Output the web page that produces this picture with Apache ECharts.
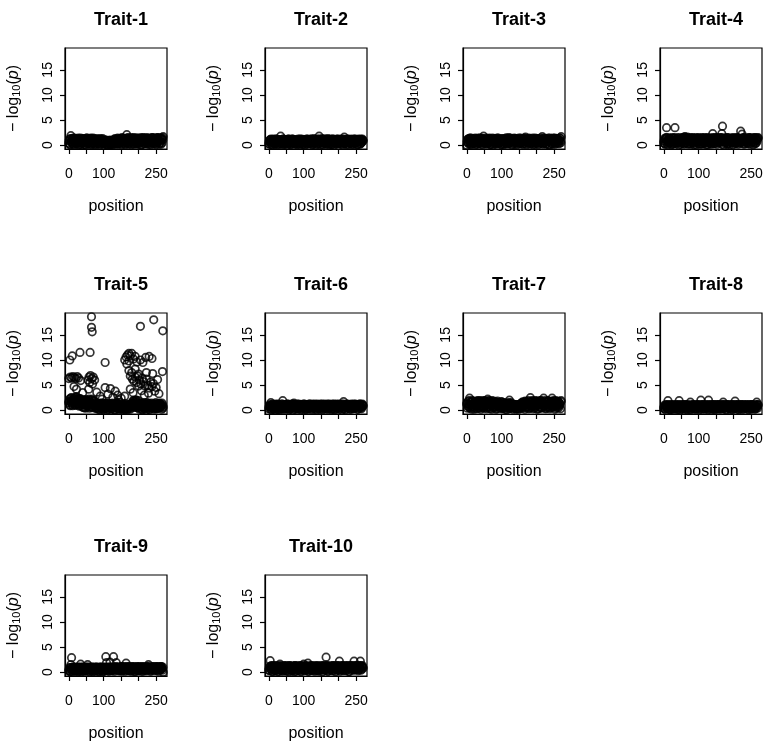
<!DOCTYPE html>
<html><head><meta charset="utf-8">
<script src="https://cdn.jsdelivr.net/npm/echarts@6/dist/echarts.min.js"></script>
<style>html,body{margin:0;padding:0;background:#fff}#c{width:768px;height:743px}</style>
</head><body><div id="c"></div>
<script>
const traitNames = ["Trait-1","Trait-2","Trait-3","Trait-4","Trait-5","Trait-6","Trait-7","Trait-8","Trait-9","Trait-10"];
const xTicks = [0,50,100,150,200,250];
const xTickLabels = [0,100,250];
const yTicks = [0,5,10,15];
// even positions
const positions = [
0,2,4,6,8,10,12,14,16,18,20,22,24,26,28,30,32,34,36,38,
40,42,44,46,48,50,52,54,56,58,60,62,64,66,68,70,72,74,76,78,
80,82,84,86,88,90,92,94,96,98,100,102,104,106,108,110,112,114,116,118,
120,122,124,126,128,130,132,134,136,138,140,142,144,146,148,150,152,154,156,158,
160,162,164,166,168,170,172,174,176,178,180,182,184,186,188,190,192,194,196,198,
200,202,204,206,208,210,212,214,216,218,220,222,224,226,228,230,232,234,236,238,
240,242,244,246,248,250,252,254,256,258,260,262,264,266,268,270];
// odd positions
const positionsB = [
1,3,5,7,9,11,13,15,17,19,21,23,25,27,29,31,33,35,37,39,
41,43,45,47,49,51,53,55,57,59,61,63,65,67,69,71,73,75,77,79,
81,83,85,87,89,91,93,95,97,99,101,103,105,107,109,111,113,115,117,119,
121,123,125,127,129,131,133,135,137,139,141,143,145,147,149,151,153,155,157,159,
161,163,165,167,169,171,173,175,177,179,181,183,185,187,189,191,193,195,197,199,
201,203,205,207,209,211,213,215,217,219,221,223,225,227,229,231,233,235,237,239,
241,243,245,247,249,251,253,255,257,259,261,263,265,267,269];

const trait1 = [
0.4,1.2,0.1,1.9,0.7,1.3,0.2,0.9,1.4,0.5,1.1,0.3,1.3,0.8,0.0,1.2,0.6,1.4,0.2,1.0,
0.5,1.3,0.9,0.1,1.2,0.7,1.4,0.3,1.1,0.6,1.3,0.2,0.8,1.2,0.4,1.4,0.9,0.1,1.1,0.6,
1.2,0.3,1.0,0.7,1.3,0.2,0.9,1.2,0.5,1.0,0.3,0.9,0.6,1.0,0.1,0.8,0.4,0.9,0.2,1.0,
0.6,0.3,0.9,0.1,1.0,0.5,1.3,0.7,1.2,0.2,1.4,0.6,1.1,0.3,1.3,0.8,1.5,0.4,1.2,0.7,
1.3,0.1,1.0,2.1,0.6,1.4,0.3,1.2,0.8,1.5,0.5,1.1,1.4,0.2,1.3,0.7,1.0,0.4,1.4,0.9,
0.2,1.3,0.6,1.5,0.1,1.1,0.8,1.4,0.3,1.2,0.7,1.5,0.4,1.0,1.3,0.2,1.4,0.9,0.5,1.2,
1.5,0.3,1.1,0.8,1.4,0.1,1.3,0.6,1.5,0.9,0.4,1.4,0.2,1.2,1.5,1.7];
const trait1b = [
0.9,0.2,1.3,0.6,1.0,0.4,1.4,0.1,0.8,1.2,0.5,1.0,0.3,1.4,0.7,0.1,1.1,0.9,0.4,1.3,
0.6,0.2,1.2,0.8,0.0,1.4,0.5,1.0,0.3,1.2,0.7,1.4,0.1,0.9,1.2,0.4,0.8,1.3,0.2,1.0,
0.6,1.2,0.3,0.9,0.0,1.1,0.7,0.4,1.3,0.2,0.8,0.5,1.0,0.2,0.7,0.0,0.9,0.4,0.6,0.1,
0.9,0.3,0.7,1.0,0.2,1.1,0.6,0.3,1.0,0.8,0.2,1.3,0.5,1.0,0.8,0.1,1.2,0.6,1.4,0.3,
0.9,1.3,0.4,0.7,1.5,0.2,1.0,0.6,1.3,0.1,1.2,0.8,0.3,1.5,0.6,1.0,0.2,1.4,0.7,1.1,
0.4,0.9,1.3,0.0,1.2,0.5,1.5,0.8,0.3,1.1,1.3,0.6,0.2,1.4,0.9,0.5,1.2,0.1,1.0,1.5,
0.6,1.3,0.3,0.9,1.2,0.4,1.5,0.7,1.0,0.2,1.3,0.8,1.4,0.5,1.1];
const trait2 = [
0.3,1.0,0.6,1.2,0.1,0.8,1.1,0.4,0.9,0.2,1.2,0.5,0.8,0.1,1.0,0.6,1.1,1.8,0.3,0.9,
0.7,1.2,0.2,1.0,0.5,1.1,0.3,0.8,1.2,0.4,1.0,0.1,0.9,0.6,1.2,0.3,1.0,0.7,0.2,1.1,
0.5,0.9,1.2,0.2,0.8,1.0,0.4,1.2,0.6,0.1,1.1,0.4,0.9,0.7,1.2,0.2,1.0,0.5,1.1,0.3,
0.8,1.2,0.1,1.0,0.6,1.3,0.4,0.9,1.1,0.2,1.2,0.7,1.8,0.3,1.0,0.6,1.3,0.1,0.9,1.1,
0.4,1.2,0.8,0.2,1.1,0.6,1.0,0.3,1.2,0.7,0.1,0.9,1.2,0.5,1.0,0.3,1.1,0.8,0.2,1.2,
0.6,1.0,0.4,1.1,0.2,0.9,1.2,0.5,1.6,0.3,1.0,0.7,1.2,0.1,0.9,0.5,1.1,0.3,1.2,0.8,
0.2,1.0,0.6,1.2,0.4,1.1,0.9,0.1,1.2,0.7,1.0,0.3,1.1,0.6,1.2,0.9];
const trait2b = [
0.8,0.2,1.1,0.5,0.9,0.0,1.2,0.6,0.3,1.0,0.4,1.2,0.7,0.2,0.9,1.1,0.3,0.6,1.0,0.1,
1.2,0.5,0.8,0.3,1.1,0.6,0.0,0.9,1.2,0.4,0.7,1.0,0.2,1.2,0.5,0.8,1.1,0.3,0.9,0.6,
0.1,1.0,0.7,0.4,1.2,0.2,0.9,0.6,1.1,0.3,0.8,0.0,1.1,0.5,0.9,1.2,0.3,0.7,1.0,0.4,
1.2,0.6,0.2,0.9,1.1,0.4,0.8,0.0,1.0,0.7,0.3,1.2,0.5,0.9,0.1,1.1,0.6,1.0,0.4,1.2,
0.7,0.2,1.0,0.5,1.3,0.8,0.1,0.9,0.6,1.1,0.3,1.2,0.7,0.0,1.0,0.5,0.9,1.2,0.4,0.8,
1.1,0.3,0.7,1.2,0.5,0.0,1.0,0.8,0.3,1.1,0.6,0.9,0.2,1.2,0.7,1.0,0.4,0.8,1.1,0.1,
0.9,0.5,1.2,0.3,1.0,0.7,0.1,1.1,0.6,0.9,0.2,1.2,0.5,0.8,1.0];
const trait3 = [
0.0,1.1,0.5,1.3,0.8,0.2,1.4,0.6,1.0,0.3,1.2,0.7,1.4,0.1,0.9,1.3,0.4,1.1,0.6,1.4,
0.2,1.0,1.3,0.5,1.8,0.8,1.2,0.3,1.4,0.7,1.1,0.4,1.3,0.9,0.1,1.2,0.6,1.4,0.3,1.0,
0.7,1.3,0.2,1.1,0.8,1.4,0.5,0.9,1.2,0.1,1.0,0.6,1.3,0.3,1.1,0.7,1.4,0.2,0.9,1.2,
1.5,0.4,1.0,0.7,1.3,0.2,1.1,0.8,1.4,0.5,0.9,1.3,0.1,1.2,0.6,1.0,0.4,1.4,0.8,0.2,
1.1,0.7,1.3,0.3,1.6,0.9,1.2,0.5,1.0,1.4,0.2,1.1,0.6,1.3,0.8,0.1,1.2,0.5,1.4,0.9,
0.3,1.0,1.3,0.7,1.2,0.4,1.1,0.8,1.7,0.2,1.4,0.6,1.0,1.3,0.3,1.2,0.8,0.1,1.1,1.4,
0.5,0.9,1.3,0.2,1.2,0.7,1.4,0.4,1.0,1.3,0.6,1.1,0.3,1.4,0.8,1.7];
const trait3b = [
0.7,1.2,0.3,0.9,1.4,0.5,0.1,1.1,0.8,1.3,0.4,0.9,1.2,0.6,0.2,1.0,1.4,0.3,0.8,1.1,
0.6,1.4,0.1,0.9,1.2,0.4,1.0,0.7,0.2,1.3,0.8,0.5,1.4,0.2,1.0,0.7,1.2,0.0,0.9,1.3,
0.4,1.1,0.6,1.4,0.3,0.8,1.2,0.5,1.0,0.2,1.3,0.7,0.1,1.1,0.9,0.4,1.4,0.6,1.0,0.3,
1.2,0.8,1.4,0.5,0.0,1.1,0.7,1.3,0.2,0.9,1.2,0.4,1.0,0.6,1.4,0.3,0.8,1.1,0.5,1.3,
0.2,0.9,1.4,0.6,1.0,0.1,1.2,0.8,0.4,1.3,0.7,1.1,0.3,0.9,1.4,0.5,1.0,0.2,1.2,0.6,
1.3,0.8,0.1,1.1,0.4,1.4,0.7,1.0,0.3,1.2,0.9,0.5,1.3,0.2,1.1,0.6,1.4,0.8,0.0,1.0,
1.2,0.3,0.9,1.4,0.6,1.1,0.2,1.3,0.7,1.0,0.4,1.2,0.9,1.4,0.5];
const trait4 = [
0.5,1.3,0.2,1.5,3.5,0.8,1.1,0.4,1.4,0.7,1.2,0.1,1.5,0.9,0.3,1.4,3.5,0.6,1.2,1.0,
0.4,1.5,0.8,1.1,0.2,1.3,0.7,1.5,0.3,1.2,1.7,0.6,1.4,0.9,1.6,0.2,1.3,0.8,1.5,0.4,
1.1,0.7,1.4,0.1,1.2,0.9,1.5,0.5,1.0,1.3,0.3,1.4,0.8,1.1,0.2,1.5,0.6,1.2,0.9,0.4,
1.3,0.7,1.5,0.1,1.1,0.8,1.4,0.3,1.2,0.6,2.3,1.0,0.4,1.5,0.8,1.2,0.2,1.4,0.7,1.1,
0.5,1.5,0.9,2.3,3.8,1.3,0.0,1.1,1.4,0.6,1.2,0.2,1.5,0.8,1.0,0.4,1.3,0.7,1.5,0.1,
1.1,0.9,1.4,0.3,1.2,0.6,1.5,0.8,1.0,0.4,2.8,1.3,2.2,0.7,1.5,0.2,1.1,0.9,1.4,0.5,
1.2,0.3,1.5,0.8,1.0,1.3,0.6,1.4,0.1,1.2,0.7,1.5,0.4,1.1,1.3,1.5];
const trait4b = [
0.9,0.3,1.2,0.6,1.5,0.1,1.0,0.7,1.4,0.4,1.1,0.8,0.2,1.3,0.5,1.5,0.9,0.3,1.2,0.6,
1.4,0.0,1.0,0.7,1.3,0.4,1.5,0.8,1.1,0.2,1.6,0.5,1.2,0.9,0.3,1.4,0.7,1.1,0.2,1.3,
0.6,1.5,0.4,1.0,0.8,1.3,0.1,1.2,0.7,1.5,0.9,0.2,1.1,0.6,1.4,0.3,1.0,0.8,1.5,0.5,
0.1,1.2,0.9,1.4,0.4,1.0,0.7,1.3,0.2,1.5,0.8,1.1,0.3,1.4,0.6,1.0,1.5,0.5,0.9,1.2,
1.3,0.7,1.5,0.2,1.1,0.8,1.4,0.4,1.0,0.6,1.5,0.3,1.2,0.9,0.1,1.3,0.7,1.1,0.5,1.4,
0.8,1.2,0.4,1.5,0.6,1.0,0.2,1.3,0.9,1.1,0.5,1.4,0.7,1.2,0.3,1.5,0.8,1.0,0.4,1.3,
0.6,1.1,1.5,0.2,0.9,1.4,0.7,1.2,0.5,1.5,0.3,1.0,1.3,0.8,1.4];
const trait5 = [
1.5,2.2,0.9,1.8,2.5,1.2,2.0,1.6,2.4,1.0,1.9,2.6,1.3,1.7,2.1,0.8,2.3,1.4,1.9,1.1,
0.6,1.7,1.2,2.0,0.4,1.5,0.9,1.8,1.3,2.2,0.7,1.6,1.1,2.0,0.5,1.4,1.9,0.8,1.2,0.3,
1.0,0.4,1.3,0.7,0.1,1.1,0.5,0.9,1.4,0.2,0.8,1.2,0.3,1.0,0.6,1.4,0.1,0.9,0.5,1.2,
0.7,0.2,1.1,0.4,1.3,0.8,0.0,1.0,0.6,1.4,0.3,1.1,0.7,0.2,1.2,0.5,0.9,0.1,1.0,0.6,
0.3,1.2,0.4,0.8,0.1,0.9,0.6,1.1,0.2,0.7,1.3,0.8,1.9,1.2,0.6,1.7,1.0,2.0,0.5,1.4,
0.9,0.2,1.2,0.6,1.4,0.1,0.8,1.1,0.4,1.3,0.7,0.0,1.0,0.5,1.4,0.3,0.9,1.2,0.6,1.1,
0.4,0.9,0.2,1.3,0.7,1.0,0.3,1.2,0.5,0.8,1.4,0.6,1.0,0.2,1.1,0.7];
const trait5b = [
1.8,1.1,2.4,1.5,2.0,0.9,2.3,1.7,1.3,2.6,1.0,2.1,1.6,2.4,1.2,1.9,0.9,2.2,1.5,1.8,
1.3,0.5,1.9,1.0,2.1,0.7,1.5,1.2,2.0,0.4,1.6,0.9,1.3,2.2,0.6,1.8,1.1,1.5,0.8,1.0,
0.5,1.3,0.2,1.0,0.7,1.4,0.3,0.9,1.2,0.1,1.1,0.6,1.4,0.4,0.8,1.2,0.2,1.0,0.5,1.3,
0.3,0.9,1.4,0.6,1.1,0.1,0.8,1.3,0.4,1.0,0.7,1.2,0.2,1.5,0.5,0.9,1.1,0.3,1.0,0.6,
0.1,0.9,0.5,1.2,0.3,0.8,1.0,0.4,1.1,0.7,1.5,0.9,1.8,0.6,1.3,2.0,1.1,1.6,0.8,1.9,
0.5,1.3,0.8,1.1,0.2,1.4,0.6,1.0,0.3,1.2,0.9,1.5,0.4,0.7,1.3,0.1,1.0,0.6,1.4,0.8,
1.2,0.4,1.0,0.7,1.5,0.3,1.1,0.6,1.3,0.9,0.5,1.2,0.8,1.4,0.4];
const trait5ExtraPos = [65,65,67,205,243,269,
3,10,32,61,104,160,164,168,172,176,180,185,190,195,205,212,220,230,238,172,166,
172,180,268,240,222,190,200,176,
0,4,8,12,16,20,24,28,34,55,58,62,66,70,74,60,68,
182,186,190,194,198,202,206,210,214,218,222,226,230,234,238,242,246,250,254,258,176,184,200,208,216,228,
15,22,40,57,80,104,119,133,140,142,90,112,126,150,160,95];
const trait5ExtraVal = [18.6,16.5,15.6,16.7,18.0,15.8,
10.0,10.8,11.5,11.5,9.5,10.0,10.6,11.0,11.3,10.8,11.3,10.2,10.7,9.6,10.0,9.5,10.5,10.7,10.3,9.8,9.2,
7.9,7.5,7.7,7.3,7.5,8.2,7.2,6.8,
6.3,6.6,6.4,6.7,6.5,6.3,6.7,6.4,5.9,6.0,6.6,6.9,6.3,6.6,6.0,5.5,5.2,
6.2,5.8,6.6,5.5,6.8,6.0,5.2,6.4,5.7,4.8,6.2,5.0,4.4,5.6,4.7,5.3,3.8,4.5,6.1,3.3,4.2,3.5,4.8,3.9,3.0,3.4,
4.7,4.2,3.5,4.2,3.6,4.5,4.3,3.8,3.0,2.1,2.8,3.2,2.6,2.4,2.8,2.2];
const trait6 = [
0.3,0.9,0.6,1.5,0.1,1.1,0.7,0.2,1.0,0.5,1.2,0.4,0.8,0.1,1.1,0.6,0.9,0.3,1.2,0.7,
1.9,0.2,1.0,0.5,1.1,0.8,0.3,1.2,0.6,0.1,0.9,1.1,0.4,1.0,0.7,1.2,1.4,0.2,0.8,1.1,
0.5,1.0,0.3,1.2,0.6,0.9,0.1,1.1,0.7,1.0,0.4,1.2,0.2,0.8,1.1,0.5,1.0,0.3,1.2,0.6,
0.9,0.1,1.1,0.7,1.0,0.4,1.2,0.2,0.9,0.6,1.1,0.3,1.0,0.8,1.2,0.5,0.9,0.1,1.1,0.7,
1.2,0.4,1.0,0.6,1.2,0.2,0.8,1.1,0.5,1.0,0.3,1.2,0.7,0.9,0.1,1.1,0.6,1.2,0.4,1.0,
0.8,0.2,1.1,0.5,1.2,0.9,0.3,1.7,0.6,1.0,0.1,1.2,0.7,1.0,0.4,1.1,0.8,0.2,1.2,0.5,
1.0,0.3,1.1,0.7,1.2,0.6,0.9,0.2,1.1,0.8,1.2,0.4,1.0,0.6,1.2,0.9];
const trait6b = [
0.7,1.1,0.2,0.9,0.5,1.2,0.3,1.0,0.6,0.0,1.1,0.8,0.3,1.2,0.5,0.9,0.1,1.0,0.7,1.2,
0.4,0.8,1.1,0.2,1.0,0.6,1.2,0.4,0.9,1.1,0.3,0.7,1.2,0.5,0.0,1.0,0.8,1.1,0.3,0.6,
1.2,0.2,0.9,0.7,1.1,0.4,1.0,0.6,0.2,1.2,0.8,1.0,0.5,0.1,1.1,0.7,0.3,0.9,1.2,0.4,
1.0,0.6,1.2,0.3,0.8,1.1,0.5,0.9,0.0,1.2,0.4,0.7,1.1,0.2,1.0,0.6,1.2,0.8,0.3,0.9,
0.6,1.1,0.2,1.0,0.8,0.4,1.2,0.5,0.9,0.1,1.1,0.7,0.3,1.2,0.6,1.0,0.2,0.8,1.1,0.5,
1.2,0.4,0.9,0.6,0.0,1.0,1.2,0.3,0.8,1.1,0.5,0.9,1.2,0.4,0.7,1.0,0.2,1.1,0.6,0.9,
0.3,1.2,0.7,1.0,0.5,0.8,1.1,0.2,1.0,0.6,1.2,0.7,0.3,1.1,0.9];
const trait7 = [
1.2,0.4,1.8,0.7,2.4,1.0,1.6,0.2,1.9,0.8,1.4,0.5,1.7,1.1,0.3,1.8,0.9,1.5,0.6,1.9,
0.2,1.3,1.7,0.8,1.5,0.4,1.9,1.0,1.6,0.6,2.2,1.2,1.8,0.3,1.5,0.9,1.9,0.5,1.4,1.1,
0.7,1.6,0.2,1.3,1.8,0.8,1.5,0.4,1.2,0.9,1.6,0.3,1.4,0.7,1.1,0.5,1.3,0.1,1.0,0.8,
1.5,2.0,0.4,1.2,0.7,1.1,0.2,0.9,1.0,0.5,1.1,0.3,0.8,1.0,0.2,0.9,1.2,0.6,1.4,0.4,
1.6,0.8,1.3,0.2,1.7,1.0,1.5,0.6,1.9,1.2,0.4,2.5,1.6,0.9,1.8,0.3,1.4,1.1,1.9,0.7,
1.5,0.2,1.8,1.0,1.3,0.6,1.9,0.4,1.6,1.2,2.4,0.8,1.7,0.3,1.5,1.1,1.9,0.6,1.4,1.0,
0.5,1.8,2.4,1.2,0.7,1.6,0.2,1.9,1.0,1.4,0.6,1.7,0.9,1.3,0.3,1.9];
const trait7b = [
1.5,0.8,1.2,1.9,0.4,1.6,1.1,0.6,1.8,1.3,0.2,1.7,1.0,1.5,0.7,1.9,1.2,0.4,1.6,1.0,
1.8,0.9,0.5,1.4,1.9,0.7,1.2,1.7,0.3,1.5,1.1,1.9,0.6,1.3,1.7,0.2,1.4,1.0,1.8,0.5,
1.2,0.8,1.6,0.3,1.0,1.5,0.6,1.3,0.9,1.7,0.4,1.1,0.8,1.5,0.2,1.2,0.9,1.4,0.6,1.0,
0.3,1.3,0.8,1.5,0.5,1.0,1.2,0.4,0.7,1.1,0.2,0.8,1.0,0.5,1.1,0.3,0.9,1.3,0.7,1.6,
0.9,1.4,0.5,1.8,1.1,0.7,1.6,1.3,0.3,1.7,1.0,1.5,0.6,1.9,1.2,0.8,1.6,0.4,1.3,1.8,
0.9,1.4,0.3,1.7,1.1,1.9,0.5,1.2,1.6,0.8,1.3,1.9,0.4,1.0,1.6,0.7,1.8,1.2,0.3,1.5,
1.1,0.6,1.7,1.3,1.9,0.8,1.2,0.4,1.6,1.0,1.8,0.5,1.4,1.1,1.7];
const trait8 = [
0.4,1.0,0.2,0.8,1.1,0.6,1.9,0.3,0.9,0.1,1.1,0.5,0.8,0.2,1.0,0.6,0.9,0.3,1.1,0.7,
0.1,1.0,1.9,0.4,0.8,1.1,0.2,0.9,0.6,1.0,0.3,1.1,0.7,0.1,0.9,0.5,1.0,0.2,1.6,0.8,
0.4,1.1,0.6,0.9,0.2,1.0,0.7,0.3,1.1,0.5,0.9,0.1,1.0,2.0,0.6,1.1,0.3,0.8,1.0,0.2,
0.7,1.1,0.4,0.9,2.0,0.5,1.0,0.2,1.1,0.6,0.3,0.9,1.1,0.1,0.8,1.0,0.5,1.1,0.2,0.9,
0.6,1.0,0.3,1.1,0.7,1.6,0.4,0.9,1.1,0.2,1.0,0.5,0.8,1.1,0.3,0.9,0.6,1.0,0.1,1.1,
0.7,0.4,1.8,0.8,1.0,0.2,1.1,0.6,0.9,0.3,1.1,0.5,1.0,0.7,0.2,1.1,0.8,0.4,1.0,0.6,
0.9,0.1,1.1,0.5,0.8,1.0,0.3,1.1,0.6,0.9,0.2,1.0,0.7,1.6,0.4,1.1];
const trait8b = [
0.7,0.2,1.0,0.5,0.9,0.3,1.1,0.6,0.1,0.8,1.0,0.4,0.7,1.1,0.2,0.9,0.5,1.0,0.3,0.8,
0.6,1.1,0.4,0.0,0.9,0.7,1.0,0.3,1.1,0.5,0.8,0.2,1.0,0.6,1.1,0.4,0.7,0.9,0.1,1.0,
0.5,0.8,1.1,0.3,0.6,1.0,0.2,0.9,0.7,1.1,0.4,0.8,0.5,1.0,0.2,0.7,1.1,0.6,0.3,0.9,
1.0,0.5,0.8,0.1,1.1,0.7,0.4,0.9,0.6,1.0,0.2,1.1,0.8,0.5,0.9,0.3,1.0,0.7,1.1,0.4,
0.8,0.2,0.9,0.6,1.1,0.3,1.0,0.5,0.8,0.0,1.1,0.6,0.9,0.4,1.0,0.7,0.2,1.1,0.5,0.8,
0.3,1.0,0.6,1.1,0.4,0.9,0.7,0.1,1.0,0.8,0.5,1.1,0.2,0.9,0.6,1.0,0.4,0.8,1.1,0.3,
0.7,1.0,0.5,0.9,0.2,1.1,0.6,0.8,1.0,0.4,0.9,0.3,1.1,0.7,1.0];
const trait9 = [
0.3,0.9,0.1,1.5,2.9,0.6,1.0,0.4,0.8,0.2,1.0,0.5,0.7,0.1,0.9,0.4,1.0,1.6,0.6,0.3,
0.8,1.0,0.2,0.7,0.9,0.4,1.0,1.5,0.5,0.8,0.1,1.0,0.6,0.3,0.9,0.7,1.0,0.2,0.8,0.5,
1.0,0.4,0.9,0.1,0.7,1.0,0.3,0.8,0.6,1.0,0.2,0.9,0.5,3.1,1.9,0.7,1.0,0.3,0.8,2.0,
0.6,1.0,0.4,0.9,3.1,0.2,1.0,0.7,1.9,0.5,0.8,1.0,0.3,0.9,0.6,1.1,0.2,1.0,0.7,0.4,
1.1,0.8,1.8,0.5,1.0,0.3,0.9,1.1,0.6,0.2,1.0,0.7,0.4,1.1,0.8,0.1,0.9,0.6,1.0,0.3,
1.1,0.5,0.8,1.0,0.2,0.9,0.6,1.1,0.4,0.8,1.0,0.3,0.7,1.1,1.5,0.6,0.9,0.2,1.0,0.5,
0.8,1.1,0.4,0.9,0.7,1.0,0.3,1.1,0.6,0.9,1.0,0.5,1.1,0.8,0.4,0.0];
const trait9b = [
0.6,0.2,0.9,0.5,0.8,0.1,1.0,0.4,0.7,0.9,0.3,0.8,0.6,1.0,0.2,0.5,0.9,0.7,0.1,1.0,
0.4,0.8,0.6,0.3,1.0,0.7,0.2,0.9,0.5,1.0,0.8,0.4,0.6,1.0,0.1,0.9,0.5,0.7,0.3,1.0,
0.6,0.8,0.2,0.9,0.5,1.0,0.4,0.7,0.1,0.9,0.8,0.3,1.0,0.6,0.4,0.9,0.7,0.2,1.0,0.5,
0.8,0.3,0.9,0.6,1.0,0.4,0.7,1.1,0.5,0.8,1.0,0.6,0.3,0.9,0.7,1.1,0.4,0.8,1.0,0.5,
0.2,0.9,0.7,1.1,0.4,0.8,1.0,0.6,0.3,0.9,1.1,0.5,0.8,0.2,1.0,0.7,0.4,1.1,0.6,0.9,
0.3,1.0,0.8,0.5,1.1,0.7,0.2,0.9,0.6,1.0,0.4,0.8,1.1,0.5,0.9,0.7,1.0,0.3,0.8,1.1,
0.6,0.9,0.4,1.0,0.7,1.1,0.5,0.8,0.2,1.0,0.9,0.6,1.1,0.7,1.0];
const trait10 = [
0.4,1.1,2.3,0.7,1.3,0.2,1.0,0.6,1.2,0.3,0.9,1.3,0.5,0.1,1.1,0.7,1.6,0.4,1.2,0.8,
0.2,1.0,1.3,0.6,0.9,0.3,1.2,0.7,1.1,0.1,1.3,0.5,0.8,1.0,0.3,1.2,0.6,0.9,1.3,0.2,
1.0,0.7,1.2,0.4,1.1,0.8,0.1,1.3,0.6,0.9,1.6,0.3,1.2,0.7,1.0,0.5,1.8,0.2,1.1,0.8,
1.3,0.4,0.9,1.2,0.6,1.0,0.2,1.3,0.7,1.1,0.3,0.9,1.2,0.5,1.0,0.8,1.3,0.1,1.1,0.6,
1.2,0.4,3.0,0.9,1.3,0.2,1.0,0.7,1.2,0.5,1.1,0.8,1.3,0.3,0.9,1.2,0.6,1.0,0.4,1.3,
0.7,2.2,0.2,1.1,0.9,1.3,0.5,1.0,0.8,1.2,0.3,1.3,0.6,1.0,0.9,0.1,1.2,0.7,1.3,0.4,
1.1,0.8,2.2,0.5,1.3,1.0,0.6,1.2,0.3,1.3,0.9,2.2,0.4,1.1,1.3,0.8];
const trait10b = [
0.8,0.3,1.2,0.6,1.0,0.1,1.3,0.7,0.4,0.9,1.2,0.5,1.0,0.8,0.2,1.3,0.6,1.1,0.3,0.9,
1.2,0.7,0.4,1.0,1.3,0.2,0.8,1.1,0.5,1.3,0.7,1.0,0.3,1.2,0.6,0.9,0.1,1.3,0.8,1.1,
0.4,1.2,0.6,0.9,1.3,0.3,1.0,0.7,1.2,0.5,0.8,1.1,0.4,1.3,0.6,0.9,0.2,1.2,0.7,1.0,
0.5,1.3,0.8,0.3,1.1,0.6,1.2,0.9,0.4,1.0,1.3,0.7,0.2,1.1,0.8,1.2,0.5,0.9,1.3,0.4,
1.0,0.7,1.3,0.6,0.2,1.1,0.8,1.2,0.5,1.0,0.3,1.3,0.9,0.6,1.2,0.1,1.0,0.8,1.3,0.5,
1.1,0.4,0.9,1.2,0.7,1.3,0.3,1.0,0.6,1.2,0.8,1.1,0.5,1.3,0.2,0.9,1.2,0.7,1.0,1.3,
0.6,1.1,0.4,1.2,0.9,1.3,0.7,1.0,0.5,1.2,0.8,1.3,0.6,1.1,1.0];

const traitValues = [trait1,trait2,trait3,trait4,trait5,trait6,trait7,trait8,trait9,trait10];
const traitValuesB = [trait1b,trait2b,trait3b,trait4b,trait5b,trait6b,trait7b,trait8b,trait9b,trait10b];

const FONT = "Liberation Sans";
const colLeft = [65, 265, 463, 660];
const rowTop = [48, 313, 575];
const W = 102, H = 101;

const grids = [], xAxes = [], yAxes = [], series = [], titles = [];
traitNames.forEach((name, k) => {
  const r = Math.floor(k / 4), c = k % 4;
  grids.push({left: colLeft[c], top: rowTop[r], width: W, height: H, show: true,
    borderColor: '#000', borderWidth: 1.2, backgroundColor: 'transparent', containLabel: false});
  titles.push({text: name, left: colLeft[c] + W / 2, top: rowTop[r] - 42, textAlign: 'center',
    textStyle: {fontFamily: FONT, fontSize: 18, fontWeight: 'bold', color: '#000'}});
  xAxes.push({type: 'value', gridIndex: k, min: -10.8, max: 281, position: 'bottom',
    axisLine: {show: true, onZero: false, lineStyle: {color: '#000', width: 1.2}}, splitLine: {show: false},
    axisTick: {show: true, length: 5, customValues: xTicks, lineStyle: {color: '#000', width: 1.2}},
    axisLabel: {customValues: xTickLabels, margin: 18, fontFamily: FONT, fontSize: 14, color: '#000'},
    name: 'position', nameLocation: 'middle', nameGap: 50,
    nameTextStyle: {fontFamily: FONT, fontSize: 16, color: '#000'}});
  yAxes.push({type: 'value', gridIndex: k, min: -0.75, max: 19.35, position: 'left',
    axisLine: {show: true, onZero: false, lineStyle: {color: '#000', width: 1.2}}, splitLine: {show: false},
    axisTick: {show: true, length: 5, customValues: yTicks, lineStyle: {color: '#000', width: 1.2}},
    axisLabel: {customValues: yTicks, rotate: 90, margin: 10, fontFamily: FONT, fontSize: 14, color: '#000'},
    name: '\u2212 log{s|10}({i|p})', nameLocation: 'middle', nameGap: 43,
    nameTextStyle: {fontFamily: FONT, fontSize: 16, color: '#000',
      rich: {s: {fontFamily: FONT, fontSize: 11, color: '#000', verticalAlign: 'bottom', padding: [6, 0, 0, 0]},
             i: {fontFamily: FONT, fontSize: 16, fontStyle: 'italic', color: '#000'}}}});
  const vals = traitValues[k], valsB = traitValuesB[k];
  const data = positions.map((p, i) => [p, vals[i]]);
  positionsB.forEach((p, i) => { if (valsB[i] !== undefined) data.push([p, valsB[i]]); });
  if (k === 4) trait5ExtraPos.forEach((p, i) => data.push([p, trait5ExtraVal[i]]));
  series.push({type: 'scatter', xAxisIndex: k, yAxisIndex: k, data: data, symbol: 'circle', symbolSize: 7.5,
    silent: true, animation: false,
    itemStyle: {color: 'rgba(0,0,0,0)', borderColor: '#000', borderWidth: 1.7}});
});

const chart = echarts.init(document.getElementById('c'), null, {renderer: 'canvas'});
chart.setOption({backgroundColor: '#fff', animation: false, title: titles, grid: grids,
  xAxis: xAxes, yAxis: yAxes, series: series});
</script></body></html>
